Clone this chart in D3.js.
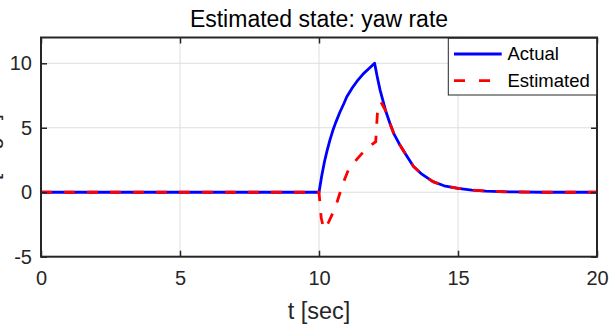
<!DOCTYPE html>
<html><head><meta charset="utf-8">
<script src="https://cdn.jsdelivr.net/npm/d3@7"></script>
<style>body{margin:0;background:#fff}svg{display:block}text{font-family:"Liberation Sans",Arial,sans-serif}</style>
</head><body>
<script>
const xTicks = [0, 5, 10, 15, 20];
const yTicks = [-5, 0, 5, 10];
const seriesNames = ["Actual", "Estimated"];
const actualT = [0, 10.0, 10.1, 10.2, 10.3, 10.4, 10.5, 10.6, 10.75, 10.9, 11.0, 11.2, 11.4, 11.6, 11.8, 12.0,
  12.1, 12.2, 12.3, 12.4, 12.55, 12.7, 12.9, 13.1, 13.4, 13.7, 14.1, 14.5, 15.0, 15.5, 16.0, 16.5, 17.0, 18.0, 20.0];
const actualV = [0, 0, 1.3, 2.4, 3.3, 4.1, 4.8, 5.4, 6.2, 6.9, 7.4, 8.1, 8.7, 9.2, 9.6, 10.0,
  8.9, 7.9, 7.1, 6.3, 5.35, 4.5, 3.7, 3.0, 2.0, 1.4, 0.82, 0.5, 0.3, 0.17, 0.09, 0.05, 0.02, 0.0, 0.0];
const estT = [0, 10.0, 10.08, 10.17, 10.25, 10.35, 10.5, 10.6, 10.77, 10.9, 11.05, 11.24, 11.5, 11.72, 11.9, 12.04,
  12.1, 12.18, 12.23, 12.4, 12.55, 12.7, 12.9, 13.1, 13.4, 13.7, 14.1, 14.5, 15.0, 15.5, 16.0, 16.5, 17.0, 18.0, 20.0];
const estV = [0, 0, -2.0, -2.85, -2.7, -2.3, -1.6, -1.1, 0.05, 0.9, 1.7, 2.25, 2.9, 3.4, 3.7, 3.92,
  6.1, 6.9, 7.0, 6.3, 5.35, 4.5, 3.7, 3.0, 2.0, 1.4, 0.82, 0.5, 0.3, 0.17, 0.09, 0.05, 0.02, 0.0, 0.0];

(function () {
const W = 609, H = 325;
const L = 41, R = 597, T = 37.5, B = 256.7;
const axCol = "#262626";
const svg = d3.select("body").append("svg").attr("width", W).attr("height", H);
const x = d3.scaleLinear().domain([0, 20]).range([L, R]);
const y = d3.scaleLinear().domain([-5, 12]).range([B, T]);
const fmt = d => String(d);

svg.append("g").selectAll("line").data(xTicks).join("line")
  .attr("x1", d => x(d)).attr("x2", d => x(d)).attr("y1", T).attr("y2", B)
  .attr("stroke", "#dedede").attr("stroke-width", 1);
svg.append("g").selectAll("line").data(yTicks).join("line")
  .attr("x1", L).attr("x2", R).attr("y1", d => y(d)).attr("y2", d => y(d))
  .attr("stroke", "#dedede").attr("stroke-width", 1);

svg.append("clipPath").attr("id", "clip").append("rect")
  .attr("x", L).attr("y", T).attr("width", R - L).attr("height", B - T);

const line = d3.line().x(d => x(d[0])).y(d => y(d[1]));
const actual = actualT.map((t, i) => [t, actualV[i]]);
const est = estT.map((t, i) => [t, estV[i]]);
const g = svg.append("g").attr("clip-path", "url(#clip)");
g.append("path").attr("d", line(actual)).attr("fill", "none")
  .attr("stroke", "#0000ff").attr("stroke-width", 2.8).attr("stroke-linejoin", "round");
g.append("path").attr("d", line(est)).attr("fill", "none")
  .attr("stroke", "#ff0000").attr("stroke-width", 2.8).attr("stroke-dasharray", "11,12");

const tl = 6;
const axB = svg.append("g").attr("transform", `translate(0,${B})`)
  .call(d3.axisBottom(x).tickValues(xTicks).tickSize(-tl).tickFormat(fmt));
const axT = svg.append("g").attr("transform", `translate(0,${T})`)
  .call(d3.axisTop(x).tickValues(xTicks).tickSize(-tl).tickFormat(""));
const axL = svg.append("g").attr("transform", `translate(${L},0)`)
  .call(d3.axisLeft(y).tickValues(yTicks).tickSize(-tl).tickPadding(10).tickFormat(fmt));
const axR = svg.append("g").attr("transform", `translate(${R},0)`)
  .call(d3.axisRight(y).tickValues(yTicks).tickSize(-tl).tickFormat(""));
[axB, axT, axL, axR].forEach(a => {
  a.select(".domain").remove();
  a.selectAll(".tick line").attr("stroke", axCol).attr("stroke-width", 1.5);
  a.selectAll(".tick text").attr("fill", axCol).style("font-size", "20px")
    .style("font-family", '"Liberation Sans", Arial, sans-serif');
});
axL.selectAll(".tick text").attr("x", -9);
axB.selectAll(".tick text").attr("dy", "0.71em").attr("y", 14.5);
svg.append("rect").attr("x", L).attr("y", T).attr("width", R - L).attr("height", B - T)
  .attr("fill", "none").attr("stroke", axCol).attr("stroke-width", 2);

svg.append("text").attr("x", (L + R) / 2).attr("y", 26.5).attr("text-anchor", "middle")
  .style("font-size", "23px").attr("fill", "#000").text("Estimated state: yaw rate");
svg.append("text").attr("x", (L + R) / 2).attr("y", 318.5).attr("text-anchor", "middle")
  .style("font-size", "23.5px").attr("fill", axCol).text("t [sec]");
svg.append("text").attr("transform", `translate(-2,${(T + B) / 2}) rotate(-90)`)
  .attr("text-anchor", "middle").style("font-size", "22px").attr("fill", axCol).text("[deg/s]");

const lx = 448.3, ly = 38.3, lw = 148.4, lh = 56.7;
const leg = svg.append("g");
leg.append("rect").attr("x", lx).attr("y", ly).attr("width", lw).attr("height", lh)
  .attr("fill", "#fff").attr("stroke", axCol).attr("stroke-width", 1);
const rows = [{name: seriesNames[0], color: "#0000ff", dash: null, yy: 54},
              {name: seriesNames[1], color: "#ff0000", dash: "11,14", yy: 80.7}];
rows.forEach(r => {
  leg.append("line").attr("x1", 454).attr("x2", 501.7).attr("y1", r.yy).attr("y2", r.yy)
    .attr("stroke", r.color).attr("stroke-width", 2.8).attr("stroke-dasharray", r.dash);
  leg.append("text").attr("x", 507.5).attr("y", r.yy).attr("dy", "0.35em")
    .style("font-size", "18.5px").attr("fill", "#000").text(r.name);
});
})();
</script>
</body></html>
